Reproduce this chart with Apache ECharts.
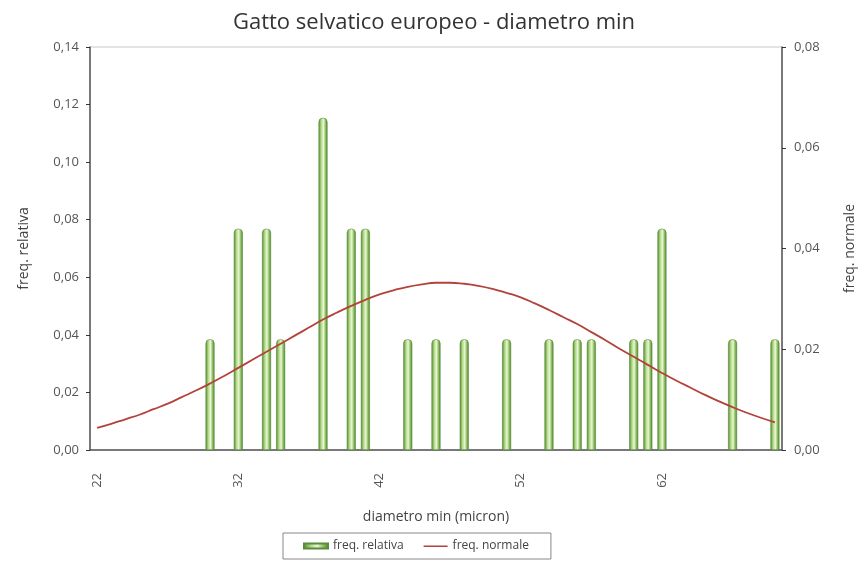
<!DOCTYPE html>
<html>
<head>
<meta charset="utf-8">
<script src="https://cdn.jsdelivr.net/npm/echarts@6/dist/echarts.min.js"></script>
<style>
html,body{margin:0;padding:0;background:#fff;}
#chart{width:868px;height:565px;}
</style>
</head>
<body>
<div id="chart"></div>
<script>
//categorie: diametro min (micron), da 22 a 70
var categorie = [22,23,24,25,26,27,28,29,30,31,32,33,34,35,36,37,38,39,40,41,42,43,44,45,46,
                 47,48,49,50,51,52,53,54,55,56,57,58,59,60,61,62,63,64,65,66,67,68,69,70];
//freq. relativa (solo le classi con osservazioni)
var classiOss = [30,32,34,35,38,40,41,44,46,48,51,54,56,57,60,61,62,67,70];
var freqRel   = [0.0385,0.0769,0.0769,0.0385,0.1154,0.0769,0.0769,0.0385,0.0385,0.0385,
                 0.0385,0.0385,0.0385,0.0385,0.0385,0.0385,0.0769,0.0385,0.0385];
//freq. normale (asse destro)
var freqNorm = [0.0044,0.0052,0.0061,0.0070,0.0081,0.0092,0.0105,0.0118,0.0132,0.0147,
                0.0163,0.0179,0.0195,0.0211,0.0227,0.0243,0.0259,0.0273,0.0286,0.0298,
                0.0309,0.0317,0.0324,0.0329,0.0332,0.0332,0.0330,0.0326,0.0320,0.0312,
                0.0303,0.0291,0.0278,0.0264,0.0250,0.0234,0.0218,0.0201,0.0185,0.0169,
                0.0153,0.0138,0.0124,0.0110,0.0097,0.0085,0.0074,0.0064,0.0055];

//serie barre allineata alle categorie
var barre = categorie.map(function(c){
    var i = classiOss.indexOf(c);
    return i >= 0 ? freqRel[i] : null;
});

function virgola(v){ return v.toFixed(2).replace('.', ','); }

var myChart = echarts.init(document.getElementById('chart'));
var font = '"Open Sans", "Noto Sans", sans-serif';
var grigioTesto = '#555';
myChart.setOption({
    animation: false,
    textStyle: {fontFamily: font},
    title: {
        text: 'Gatto selvatico europeo - diametro min',
        left: 'center',
        top: 7,
        textStyle: {fontFamily: font, fontSize: 22, fontWeight: 'normal', color: '#333'}
    },
    legend: {
        left: 283,
        top: 533,
        padding: [7, 22, 7, 20],
        borderColor: '#888',
        borderWidth: 1,
        itemGap: 20,
        itemWidth: 24,
        itemHeight: 5,
        textStyle: {fontFamily: font, fontSize: 12, color: '#444'},
        data: [
            {name: 'freq. relativa', icon: 'rect'},
            //linea sottile senza simbolo
            {name: 'freq. normale', icon: 'path://M0,0 L0,0.01 Z M0,2 L24,2 L24,3.4 L0,3.4 Z M24,5 L24,4.99 Z'}
        ]
    },
    grid: {
        left: 90, right: 86, top: 47, bottom: 115,
        show: true, borderColor: '#c8c8c8', borderWidth: 1
    },
    xAxis: {
        type: 'category',
        data: categorie,
        boundaryGap: true,
        name: 'diametro min (micron)',
        nameLocation: 'middle',
        nameGap: 60,
        nameTextStyle: {fontSize: 14, color: '#444', fontFamily: font},
        axisLine: {lineStyle: {color: '#555', width: 1.5}},
        axisTick: {interval: 9, length: 4, lineStyle: {color: '#333'}},
        axisLabel: {interval: 9, rotate: 90, margin: 23, fontSize: 13, color: grigioTesto},
        splitLine: {show: false}
    },
    yAxis: [
        {
            type: 'value',
            min: 0, max: 0.14, interval: 0.02,
            name: 'freq. relativa',
            nameLocation: 'middle',
            nameGap: 59,
            nameTextStyle: {fontSize: 14, color: '#444', fontFamily: font},
            axisLine: {show: true, lineStyle: {color: '#555', width: 1.5}},
            axisTick: {show: true, length: 4, lineStyle: {color: '#333'}},
            axisLabel: {fontSize: 13, color: grigioTesto, margin: 11,
                formatter: function(v){ return virgola(v); }},
            splitLine: {show: false}
        },
        {
            type: 'value',
            position: 'right',
            min: 0, max: 0.08, interval: 0.02,
            name: 'freq. normale',
            nameLocation: 'middle',
            nameRotate: 90,
            nameGap: 61,
            nameTextStyle: {fontSize: 14, color: '#444', fontFamily: font},
            axisLine: {show: true, lineStyle: {color: '#555', width: 1.5}},
            axisTick: {show: true, length: 4, lineStyle: {color: '#333'}},
            axisLabel: {fontSize: 13, color: grigioTesto, margin: 12,
                formatter: function(v){ return virgola(v); }},
            splitLine: {show: false}
        }
    ],
    series: [
        {
            name: 'freq. relativa',
            type: 'bar',
            yAxisIndex: 0,
            barWidth: 9,
            data: barre,
            itemStyle: {
                borderRadius: [4, 4, 0, 0],
                borderColor: '#5a8c3b',
                borderWidth: 0.6,
                color: new echarts.graphic.LinearGradient(0, 0, 1, 0, [
                    {offset: 0, color: '#4a852b'},
                    {offset: 0.3, color: '#b3da86'},
                    {offset: 0.55, color: '#eaf6d6'},
                    {offset: 0.8, color: '#86ba5a'},
                    {offset: 1, color: '#46802a'}
                ])
            }
        },
        {
            name: 'freq. normale',
            type: 'line',
            yAxisIndex: 1,
            smooth: true,
            symbol: 'none',
            data: freqNorm,
            lineStyle: {color: '#b3423b', width: 1.8},
            itemStyle: {color: '#b3423b'}
        }
    ]
});
</script>
</body>
</html>
